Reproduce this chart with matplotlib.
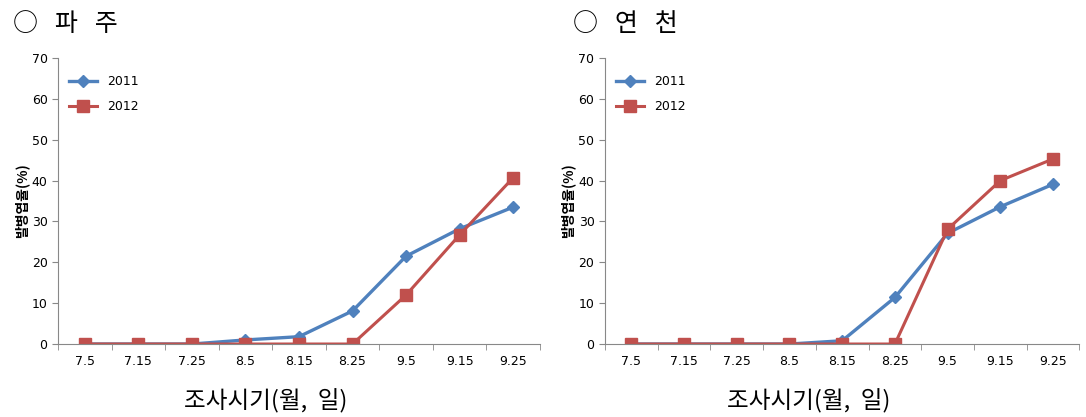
import matplotlib
matplotlib.use('Agg')
import matplotlib.pyplot as plt
from matplotlib.ticker import FixedLocator

plt.rcParams['font.family'] = ['DejaVu Sans', 'Noto Sans CJK KR']

# Data
dates = ['7.5', '7.15', '7.25', '8.5', '8.15', '8.25', '9.5', '9.15', '9.25']
paju_2011 = [0, 0, 0, 1.0, 1.8, 8.1, 21.5, 28.2, 33.5]
paju_2012 = [0, 0, 0, 0, 0, 0, 12.0, 26.7, 40.7]
yeoncheon_2011 = [0, 0, 0, 0, 0.8, 11.4, 27.1, 33.6, 39.1]
yeoncheon_2012 = [0, 0, 0, 0, 0, 0, 28.1, 40.0, 45.3]
titles = ['○   파   주', '○   연   천']

blue = '#4F81BD'
red = '#C0504D'
kfont = ['Noto Sans CJK KR', 'DejaVu Sans']

fig = plt.figure(figsize=(10.86, 4.17), dpi=100)
axes = [fig.add_axes([0.0534, 0.175, 0.4438, 0.686]),
        fig.add_axes([0.557, 0.175, 0.437, 0.686])]
series = [(paju_2011, paju_2012), (yeoncheon_2011, yeoncheon_2012)]
xlab_x = [0.245, 0.745]
title_x = [0.012, 0.528]

for ax, (s11, s12), tl, lx, tx in zip(axes, series, titles, xlab_x, title_x):
    x = list(range(len(dates)))
    ax.plot(x, s11, color=blue, lw=2.4, marker='D', ms=6, label='2011')
    ax.plot(x, s12, color=red, lw=2.2, marker='s', ms=8, label='2012')
    ax.set_xlim(-0.5, len(dates) - 0.5)
    ax.set_ylim(0, 70)
    ax.set_yticks(range(0, 71, 10))
    ax.set_xticks(x)
    ax.set_xticklabels(dates)
    ax.xaxis.set_minor_locator(FixedLocator([i - 0.5 for i in range(len(dates) + 1)]))
    ax.tick_params(axis='x', which='major', length=0, pad=8, labelsize=9)
    ax.tick_params(axis='x', which='minor', length=4, color='#888888')
    ax.tick_params(axis='y', length=4, color='#888888', labelsize=9)
    for s in ['top', 'right']:
        ax.spines[s].set_visible(False)
    for s in ['left', 'bottom']:
        ax.spines[s].set_color('#888888')
    ax.set_ylabel('발병엽율(%)', family=kfont, fontsize=10, fontweight='bold', labelpad=2)
    ax.legend(loc='upper left', frameon=False, fontsize=9, handlelength=2.2,
              bbox_to_anchor=(0.0, 0.98), labelspacing=1.0)
    fig.text(lx, 0.02, '조사시기(월,  일)', family=kfont, fontsize=17, ha='center')
    fig.text(tx, 0.925, tl, family=kfont, fontsize=18, ha='left')

fig.savefig('out.png', dpi=100)
